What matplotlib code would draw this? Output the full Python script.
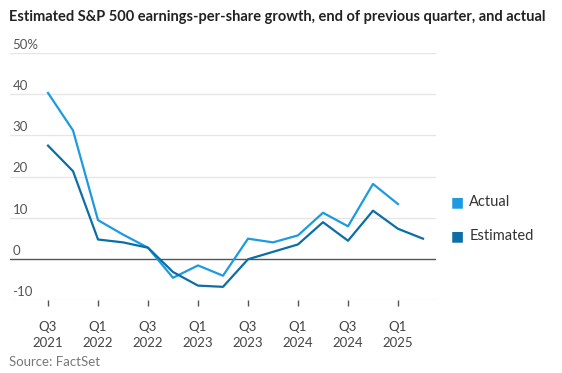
import matplotlib.pyplot as plt
import numpy as np

plt.rcParams['font.family'] = ['Lato', 'DejaVu Sans']

quarters = ['Q3 2021', 'Q4 2021', 'Q1 2022', 'Q2 2022', 'Q3 2022', 'Q4 2022',
            'Q1 2023', 'Q2 2023', 'Q3 2023', 'Q4 2023', 'Q1 2024', 'Q2 2024',
            'Q3 2024', 'Q4 2024', 'Q1 2025', 'Q2 2025']
actual = [40.3, 31.2, 9.4, 5.9, 2.7, -4.6, -1.6, -4.1, 4.9, 4.0, 5.7, 11.2,
          7.9, 18.2, 13.3]
estimated = [27.5, 21.3, 4.7, 4.0, 2.7, -3.2, -6.5, -6.8, -0.1, 1.7, 3.5, 8.9,
             4.4, 11.7, 7.3, 4.9]
tick_labels = ['Q3\n2021', 'Q1\n2022', 'Q3\n2022', 'Q1\n2023', 'Q3\n2023',
               'Q1\n2024', 'Q3\n2024', 'Q1\n2025']
y_ticks = [-10, 0, 10, 20, 30, 40, 50]

c_actual = '#1d9ae0'
c_est = '#0b6ea6'

fig = plt.figure(figsize=(5.62, 3.73), dpi=100)
ax = fig.add_axes([0.0178, 0.1957, 0.7580, 0.6622])

x = np.arange(len(quarters))
ax.plot(x[:len(actual)], actual, color=c_actual, lw=1.6, zorder=3)
ax.plot(x, estimated, color=c_est, lw=1.6, zorder=3)

ax.set_xlim(-1.52, 15.52)
ax.set_ylim(-10, 50)

for v in y_ticks:
    if v == 0:
        ax.axhline(0, color='#555555', lw=1.0, zorder=2)
    else:
        ax.axhline(v, color='#e6e6e6', lw=1.0, zorder=1)
    lab = '50%' if v == 50 else str(v)
    ax.text(-1.42, v + 0.5, lab, fontsize=9.5, color='#555555',
            ha='left', va='bottom')

ax.set_yticks([])
ax.set_xticks(x[::2])
ax.set_xticklabels(tick_labels, fontsize=9.5, color='#444444', linespacing=1.45)
ax.tick_params(axis='x', length=4, width=1, color='#555555', pad=11)
for s in ax.spines.values():
    s.set_visible(False)

fig.text(0.016, 0.955, 'Estimated S&P 500 earnings-per-share growth, end of previous quarter, and actual',
         fontsize=10.5, fontweight='bold', color='#222222', ha='left', va='center')

# legend
fig.text(0.802, 0.459, '\u25A0', fontsize=10, color=c_actual, ha='left', va='center')
fig.text(0.835, 0.459, 'Actual', fontsize=10.5, color='#333333', ha='left', va='center')
fig.text(0.802, 0.367, '\u25A0', fontsize=10, color=c_est, ha='left', va='center')
fig.text(0.835, 0.367, 'Estimated', fontsize=10.5, color='#333333', ha='left', va='center')

fig.text(0.016, 0.030, 'Source: FactSet', fontsize=9.5, color='#777777',
         ha='left', va='center')

fig.savefig('out.png', dpi=100)
